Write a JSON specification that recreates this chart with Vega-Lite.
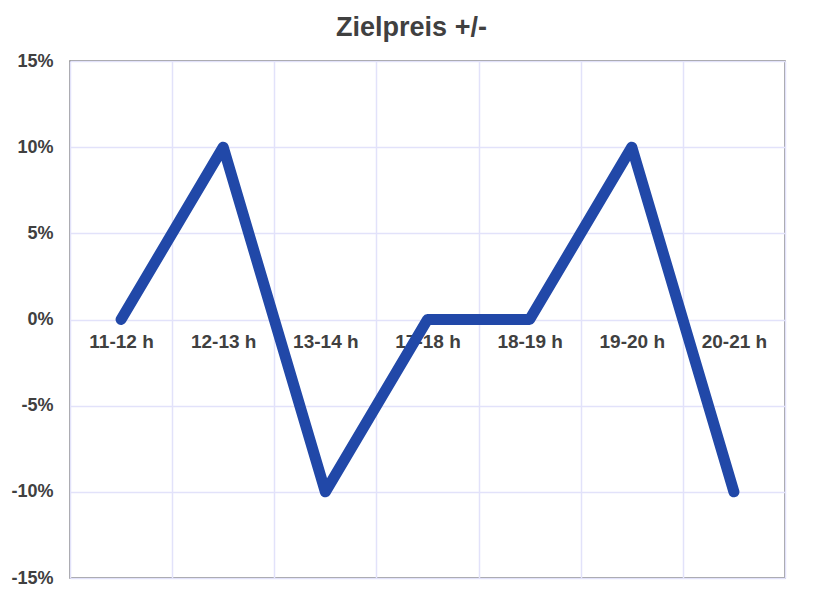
{
  "$schema": "https://vega.github.io/schema/vega-lite/v6.json",
  "width": 715,
  "height": 517,
  "autosize": {"type": "none"},
  "padding": {"left": 70, "top": 61, "right": 37, "bottom": 18},
  "background": "white",
  "title": {
    "text": "Zielpreis +/-",
    "font": "Liberation Sans",
    "fontSize": 27,
    "fontWeight": "bold",
    "color": "#404040",
    "anchor": "middle",
    "dx": -16,
    "offset": 10
  },
  "data": {
    "values": [
      {"slot": "11-12 h", "value": 0},
      {"slot": "12-13 h", "value": 0.10},
      {"slot": "13-14 h", "value": -0.10},
      {"slot": "17-18 h", "value": 0},
      {"slot": "18-19 h", "value": 0},
      {"slot": "19-20 h", "value": 0.10},
      {"slot": "20-21 h", "value": -0.10}
    ]
  },
  "mark": {"type": "line", "color": "#2148A8", "strokeWidth": 11, "strokeCap": "round", "strokeJoin": "round"},
  "encoding": {
    "x": {
      "field": "slot",
      "type": "ordinal",
      "sort": null,
      "scale": {"type": "band", "paddingInner": 0, "paddingOuter": 0},
      "axis": {
        "title": null,
        "labelAngle": 0,
        "tickBand": "extent",
        "domain": false,
        "ticks": false,
        "grid": true,
        "gridColor": "#E2E2FA",
        "gridWidth": 1.5,
        "offset": -258,
        "labelPadding": 12,
        "labelFont": "Liberation Sans",
        "labelFontSize": 19,
        "labelFontWeight": "bold",
        "labelColor": "#404040"
      }
    },
    "y": {
      "field": "value",
      "type": "quantitative",
      "scale": {"domain": [-0.15, 0.15], "nice": false, "zero": false},
      "axis": {
        "title": null,
        "values": [-0.15, -0.1, -0.05, 0, 0.05, 0.1, 0.15],
        "labelExpr": "replace(format(datum.value, '.0%'), '\u2212', '-')",
        "domain": false,
        "ticks": false,
        "grid": true,
        "gridColor": "#E2E2FA",
        "gridWidth": 1.5,
        "labelPadding": 17,
        "labelFont": "Liberation Sans",
        "labelFontSize": 18,
        "labelFontWeight": "bold",
        "labelColor": "#404040"
      }
    }
  },
  "config": {
    "view": {"stroke": "#7A7A7A", "strokeWidth": 1.5}
  }
}
